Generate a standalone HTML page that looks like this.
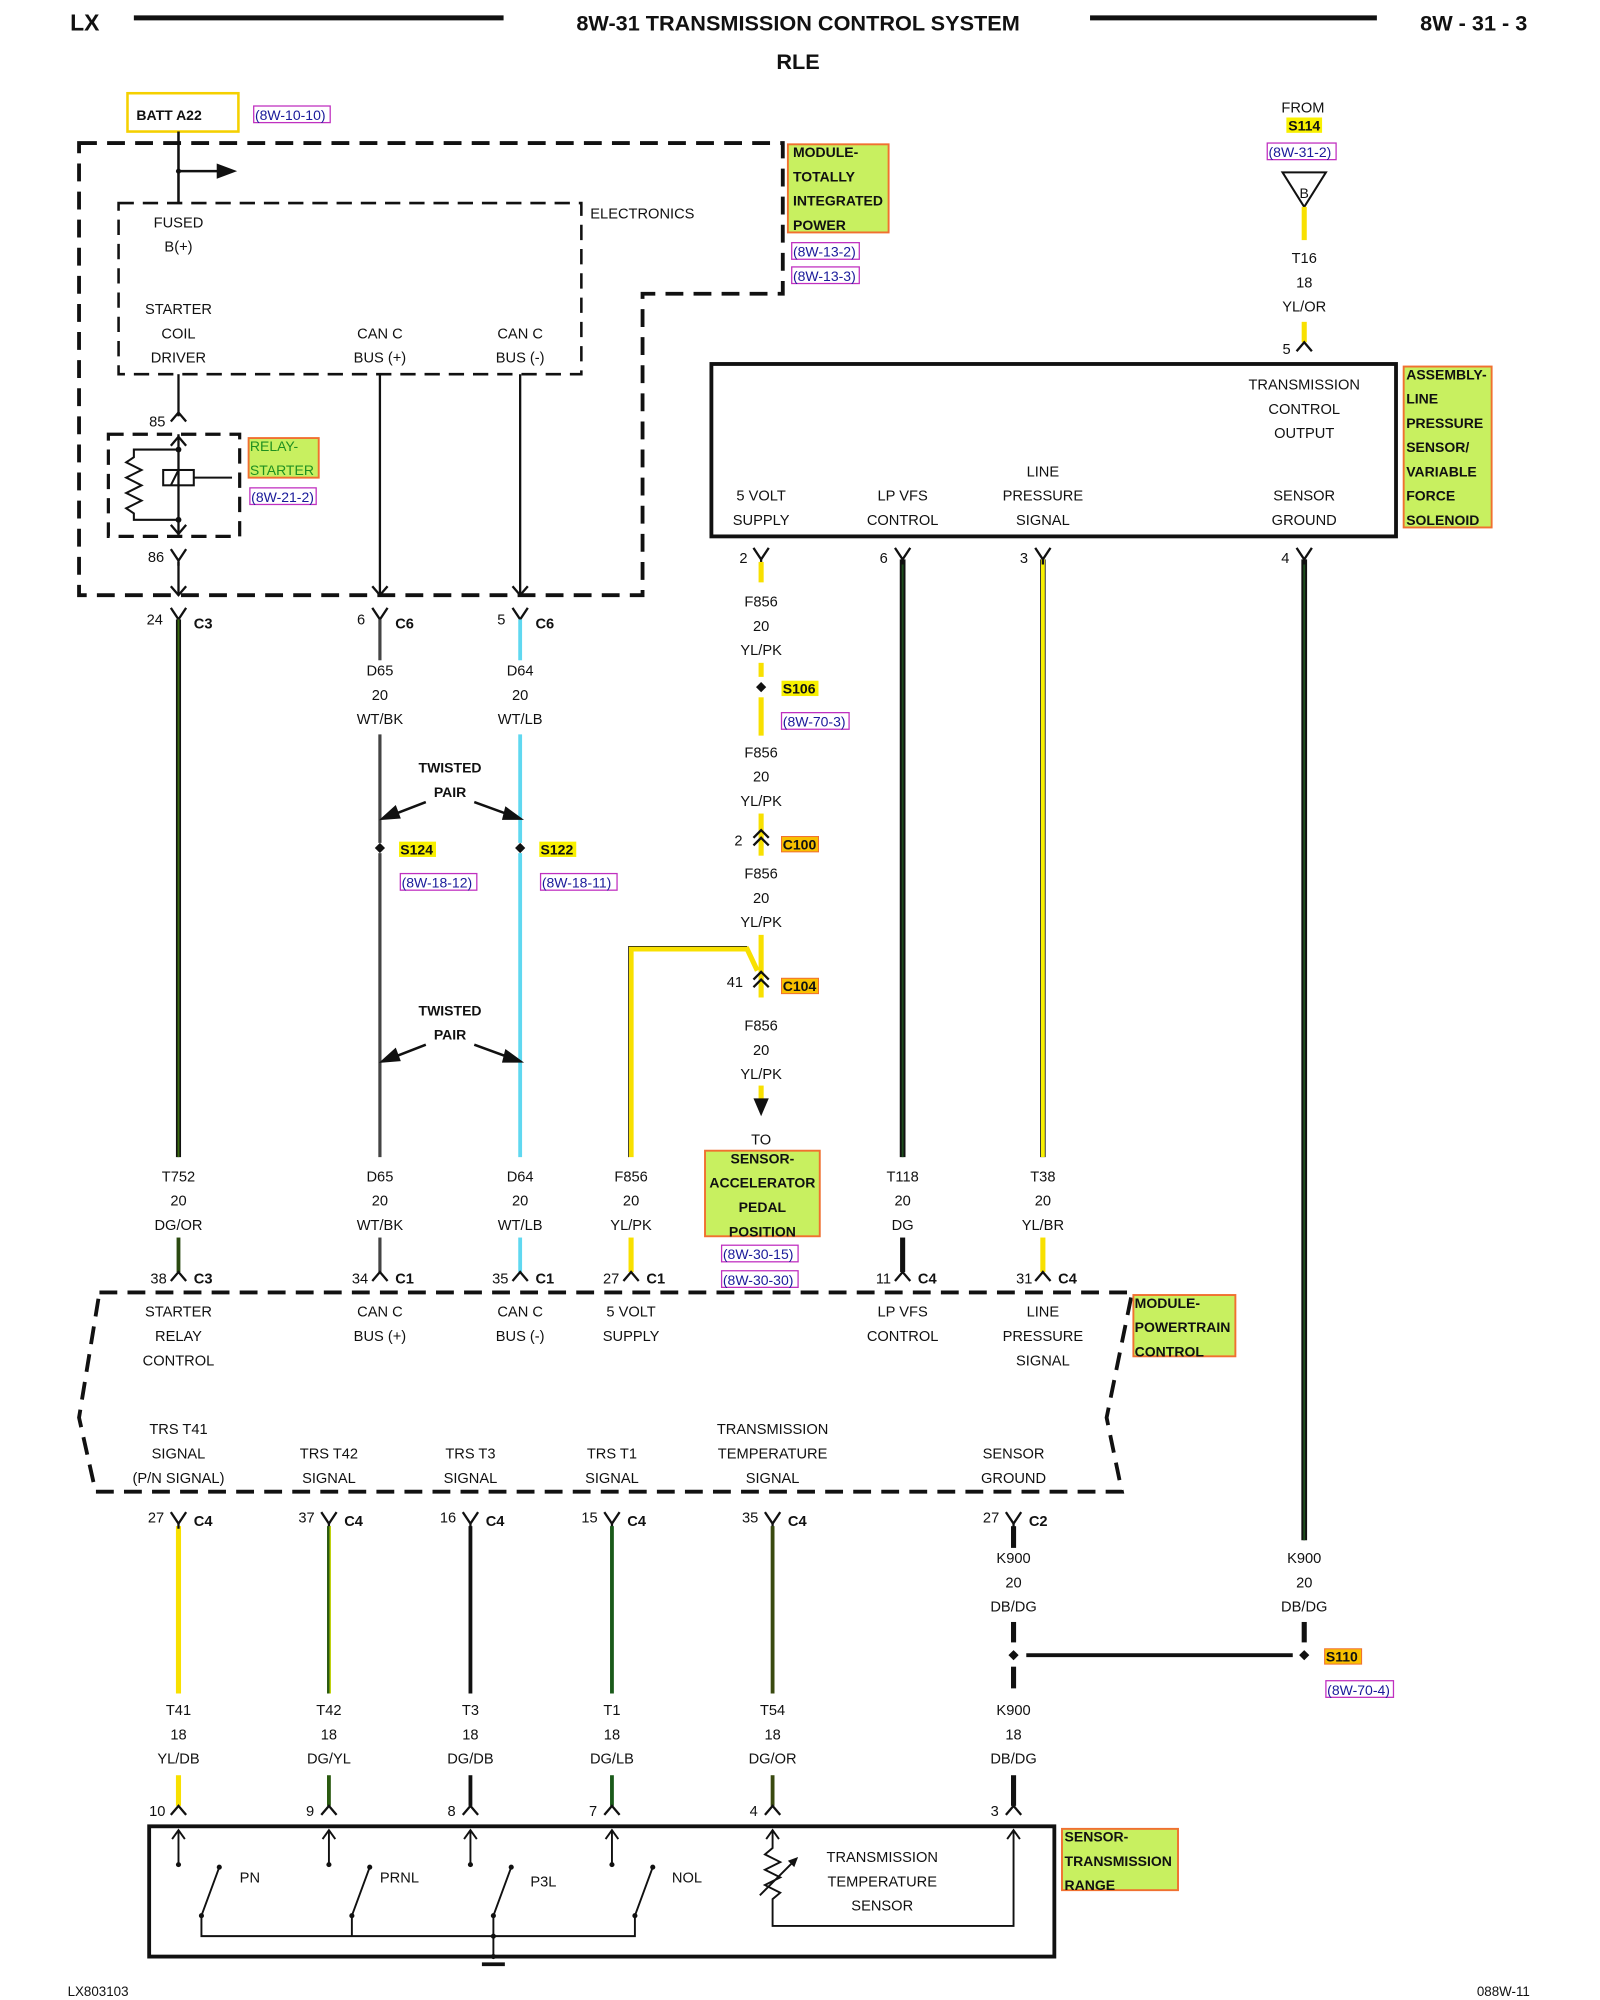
<!DOCTYPE html>
<html><head><meta charset="utf-8"><style>
html,body{margin:0;padding:0;background:#fff}
svg{display:block}
text{font-family:"Liberation Sans",sans-serif;font-size:11.5px;fill:#111}
.c{text-anchor:middle}
.b{font-weight:bold}
.r{fill:#1a1a9a;font-size:11px}
.d{fill:none;stroke:#111;stroke-width:3;stroke-dasharray:14,8}
.k{fill:none;stroke:#111;stroke-width:1.6}
.lab{fill:#c8f060;stroke:#f07030;stroke-width:1.5}
.ref{fill:none;stroke:#c030c0;stroke-width:1}
</style></head><body>
<svg width="1600" height="2000" viewBox="0 0 1255 1566" preserveAspectRatio="none" xmlns="http://www.w3.org/2000/svg">
<defs>
<g id="Y"><path d="M-6,-9 L0,0 L6,-9 M0,0 L0,4" fill="none" stroke="#111" stroke-width="1.8"/></g>
<g id="A"><path d="M-6,7 L0,0 L6,7" fill="none" stroke="#111" stroke-width="1.8"/></g>
<g id="V"><path d="M-6,-7 L0,0 L6,-7" fill="none" stroke="#111" stroke-width="1.8"/></g>
<g id="AA"><path d="M-6,6 L0,0 L6,6 M-6,12 L0,6 L6,12" fill="none" stroke="#111" stroke-width="1.8"/></g>
</defs>
<!-- header -->
<text x="55" y="24" class="b" style="font-size:18px">LX</text>
<line x1="105" y1="14" x2="395" y2="14" stroke="#111" stroke-width="4"/>
<text x="626" y="24" class="b c" style="font-size:17px">8W-31 TRANSMISSION CONTROL SYSTEM</text>
<line x1="855" y1="14" x2="1080" y2="14" stroke="#111" stroke-width="4"/>
<text x="1198" y="24" class="b" style="font-size:17px;text-anchor:end">8W - 31 - 3</text>
<text x="626" y="54" class="b c" style="font-size:17px">RLE</text>

<!-- BATT -->
<rect x="100" y="73" width="87" height="30" fill="none" stroke="#f5d000" stroke-width="2"/>
<text x="107" y="94" class="b" style="font-size:11px">BATT A22</text>
<rect x="199" y="83" width="60" height="13" class="ref"/><text x="200" y="94" class="r">(8W-10-10)</text>

<!-- TIPM -->
<path d="M62,112 L614,112 L614,230 L504,230 L504,466 L62,466 Z" class="d"/>
<rect x="93" y="159" width="363" height="134" class="d" style="stroke-width:2;stroke-dasharray:12,7"/>
<text x="463" y="171">ELECTRONICS</text>
<line x1="140" y1="103" x2="140" y2="159" stroke="#111" stroke-width="2"/>
<line x1="140" y1="134" x2="172" y2="134" stroke="#111" stroke-width="2"/>
<path d="M170,128 L186,134 L170,140 Z" fill="#111"/>
<circle cx="140" cy="134" r="2" fill="#111"/>
<text x="140" y="178" class="c">FUSED</text><text x="140" y="197" class="c">B(+)</text>
<text x="140" y="246" class="c">STARTER</text><text x="140" y="265" class="c">COIL</text><text x="140" y="284" class="c">DRIVER</text>
<text x="298" y="265" class="c">CAN C</text><text x="298" y="284" class="c">BUS (+)</text>
<text x="408" y="265" class="c">CAN C</text><text x="408" y="284" class="c">BUS (-)</text>
<rect x="618" y="113" width="79" height="69" class="lab"/>
<text x="622" y="123" class="b" style="font-size:11px">MODULE-</text>
<text x="622" y="142" class="b" style="font-size:11px">TOTALLY</text>
<text x="622" y="161" class="b" style="font-size:11px">INTEGRATED</text>
<text x="622" y="180" class="b" style="font-size:11px">POWER</text>
<rect x="621" y="190" width="53" height="13" class="ref"/><text x="622" y="201" class="r">(8W-13-2)</text>
<rect x="621" y="209" width="53" height="13" class="ref"/><text x="622" y="220" class="r">(8W-13-3)</text>

<!-- relay -->
<line x1="140" y1="293" x2="140" y2="326" stroke="#111" stroke-width="1.8"/>
<use href="#A" x="140" y="323"/><text x="117" y="334">85</text>
<rect x="85" y="340" width="103" height="80" class="d" style="stroke-width:2.5;stroke-dasharray:12,7"/>
<line x1="140" y1="340" x2="140" y2="420" stroke="#111" stroke-width="1.8"/>
<use href="#A" x="140" y="342"/><use href="#V" x="140" y="418"/>
<circle cx="140" cy="352" r="2.3" fill="#111"/><circle cx="140" cy="407" r="2.3" fill="#111"/>
<path d="M140,352 L105,352 L105,358 L99,362 L111,368 L99,374 L111,380 L99,386 L111,392 L99,398 L105,402 L105,407 L140,407" class="k"/>
<rect x="128" y="368" width="24" height="12" class="k"/><path d="M140,368 L134,380 M152,374 L182,374" class="k"/>
<rect x="195" y="343" width="55" height="31" class="lab"/>
<text x="196" y="353" style="font-size:11px;fill:#209020">RELAY-</text>
<text x="196" y="372" style="font-size:11px;fill:#209020">STARTER</text>
<rect x="196" y="382" width="52" height="13" class="ref"/><text x="197" y="393" class="r">(8W-21-2)</text>
<use href="#Y" x="140" y="439"/><text x="116" y="440">86</text>
<line x1="140" y1="440" x2="140" y2="466" stroke="#111" stroke-width="1.8"/>
<use href="#V" x="140" y="466"/>
<line x1="298" y1="293" x2="298" y2="466" stroke="#111" stroke-width="1.8"/><use href="#V" x="298" y="466"/>
<line x1="408" y1="293" x2="408" y2="466" stroke="#111" stroke-width="1.8"/><use href="#V" x="408" y="466"/>

<!-- C3/C6 connectors -->
<use href="#Y" x="140" y="485"/><text x="115" y="489">24</text><text x="152" y="492" class="b">C3</text>
<use href="#Y" x="298" y="485"/><text x="280" y="489">6</text><text x="310" y="492" class="b">C6</text>
<use href="#Y" x="408" y="485"/><text x="390" y="489">5</text><text x="420" y="492" class="b">C6</text>

<!-- wires -->
<g stroke-linecap="butt">
<line x1="140" y1="485" x2="140" y2="906" stroke="#111" stroke-width="4"/><line x1="140" y1="485" x2="140" y2="906" stroke="#3a6a10" stroke-width="1.5"/>
<line x1="298" y1="575" x2="298" y2="906" stroke="#444" stroke-width="2.5"/>
<line x1="298" y1="485" x2="298" y2="517" stroke="#444" stroke-width="2.5"/>
<line x1="408" y1="575" x2="408" y2="906" stroke="#60d8f0" stroke-width="3"/>
<line x1="408" y1="485" x2="408" y2="517" stroke="#60d8f0" stroke-width="3"/>
<line x1="708" y1="438" x2="708" y2="906" stroke="#111" stroke-width="4.5"/><line x1="708" y1="438" x2="708" y2="906" stroke="#1d4d1d" stroke-width="1.5"/>
<line x1="818" y1="438" x2="818" y2="906" stroke="#333" stroke-width="4.5"/><line x1="818" y1="438" x2="818" y2="906" stroke="#f8f000" stroke-width="3"/>
<line x1="1023" y1="438" x2="1023" y2="1206" stroke="#111" stroke-width="4.5"/><line x1="1023" y1="438" x2="1023" y2="1206" stroke="#1d4d1d" stroke-width="1.5"/>
</g>
<text x="298" y="529" class="c">D65</text><text x="298" y="548" class="c">20</text><text x="298" y="567" class="c">WT/BK</text>
<text x="408" y="529" class="c">D64</text><text x="408" y="548" class="c">20</text><text x="408" y="567" class="c">WT/LB</text>
<text x="353" y="605" class="c b" style="font-size:11px">TWISTED</text><text x="353" y="624" class="c b" style="font-size:11px">PAIR</text>
<path d="M334,628 L303,640 M372,628 L405,640" stroke="#111" stroke-width="2"/>
<path d="M300,641 L310,632 L313,640 Z M408,641 L397,633 L395,641 Z" fill="#111" stroke="#111" stroke-width="2"/>
<text x="353" y="795" class="c b" style="font-size:11px">TWISTED</text><text x="353" y="814" class="c b" style="font-size:11px">PAIR</text>
<path d="M334,818 L303,830 M372,818 L405,830" stroke="#111" stroke-width="2"/>
<path d="M300,831 L310,822 L313,830 Z M408,831 L397,823 L395,831 Z" fill="#111" stroke="#111" stroke-width="2"/>
<rect x="294" y="660" width="8" height="8" fill="#fff"/><rect x="404" y="660" width="8" height="8" fill="#fff"/>
<path d="M298,660 L302,664 L298,668 L294,664 Z" fill="#111"/><path d="M408,660 L412,664 L408,668 L404,664 Z" fill="#111"/>
<rect x="313" y="659" width="29" height="12" fill="#f8f000"/><text x="314" y="669" class="b" style="font-size:11px">S124</text>
<rect x="423" y="659" width="29" height="12" fill="#f8f000"/><text x="424" y="669" class="b" style="font-size:11px">S122</text>
<rect x="314" y="684" width="60" height="13" class="ref"/><text x="315" y="695" class="r">(8W-18-12)</text>
<rect x="424" y="684" width="60" height="13" class="ref"/><text x="425" y="695" class="r">(8W-18-11)</text>

<!-- right top -->
<text x="1022" y="88" class="c">FROM</text>
<rect x="1009" y="92" width="28" height="12" fill="#f8f000"/><text x="1023" y="102" class="c b" style="font-size:11px">S114</text>
<rect x="994" y="112" width="54" height="13" class="ref"/><text x="995" y="123" class="r">(8W-31-2)</text>
<path d="M1006,135 L1040,135 L1023,162 Z" fill="#fff" stroke="#111" stroke-width="1.6"/><text x="1023" y="155" class="c" style="font-size:11px">B</text>
<line x1="1023" y1="162" x2="1023" y2="188" stroke="#f8e000" stroke-width="4"/>
<text x="1023" y="206" class="c">T16</text><text x="1023" y="225" class="c">18</text><text x="1023" y="244" class="c">YL/OR</text>
<line x1="1023" y1="252" x2="1023" y2="268" stroke="#f8e000" stroke-width="4"/>
<use href="#A" x="1023" y="268"/><text x="1006" y="277">5</text>
<rect x="558" y="285" width="537" height="135" fill="none" stroke="#111" stroke-width="3"/>
<text x="1023" y="305" class="c">TRANSMISSION</text><text x="1023" y="324" class="c">CONTROL</text><text x="1023" y="343" class="c">OUTPUT</text>
<text x="597" y="392" class="c">5 VOLT</text><text x="597" y="411" class="c">SUPPLY</text>
<text x="708" y="392" class="c">LP VFS</text><text x="708" y="411" class="c">CONTROL</text>
<text x="818" y="373" class="c">LINE</text><text x="818" y="392" class="c">PRESSURE</text><text x="818" y="411" class="c">SIGNAL</text>
<text x="1023" y="392" class="c">SENSOR</text><text x="1023" y="411" class="c">GROUND</text>
<rect x="1101" y="287" width="69" height="126" class="lab"/>
<text x="1103" y="297" class="b" style="font-size:11px">ASSEMBLY-</text>
<text x="1103" y="316" class="b" style="font-size:11px">LINE</text>
<text x="1103" y="335" class="b" style="font-size:11px">PRESSURE</text>
<text x="1103" y="354" class="b" style="font-size:11px">SENSOR/</text>
<text x="1103" y="373" class="b" style="font-size:11px">VARIABLE</text>
<text x="1103" y="392" class="b" style="font-size:11px">FORCE</text>
<text x="1103" y="411" class="b" style="font-size:11px">SOLENOID</text>
<use href="#Y" x="597" y="438"/><text x="580" y="441">2</text>
<use href="#Y" x="708" y="438"/><text x="690" y="441">6</text>
<use href="#Y" x="818" y="438"/><text x="800" y="441">3</text>
<use href="#Y" x="1023" y="438"/><text x="1005" y="441">4</text>

<!-- F856 -->
<g stroke="#f8e000" stroke-width="4">
<line x1="597" y1="440" x2="597" y2="456"/><line x1="597" y1="519" x2="597" y2="530"/><line x1="597" y1="546" x2="597" y2="576"/>
<line x1="597" y1="637" x2="597" y2="670"/><line x1="597" y1="732" x2="597" y2="781"/><line x1="597" y1="850" x2="597" y2="862"/>
<path d="M495,906 L495,743 L586,743 L594,760" fill="none"/>
<line x1="495" y1="969" x2="495" y2="996"/><line x1="818" y1="969" x2="818" y2="996"/>
<line x1="140" y1="1195" x2="140" y2="1326"/><line x1="140" y1="1390" x2="140" y2="1414"/>
</g>
<path d="M493,906 L493,741 L586,741" fill="none" stroke="#111" stroke-width="0.6"/>
<text x="597" y="475" class="c">F856</text><text x="597" y="494" class="c">20</text><text x="597" y="513" class="c">YL/PK</text>
<path d="M597,534 L601,538 L597,542 L593,538 Z" fill="#111"/>
<rect x="613" y="533" width="29" height="12" fill="#f8f000"/><text x="614" y="543" class="b" style="font-size:11px">S106</text>
<rect x="613" y="558" width="53" height="13" class="ref"/><text x="614" y="569" class="r">(8W-70-3)</text>
<text x="597" y="593" class="c">F856</text><text x="597" y="612" class="c">20</text><text x="597" y="631" class="c">YL/PK</text>
<use href="#AA" x="597" y="650"/><text x="576" y="662">2</text>
<rect x="613" y="655" width="29" height="12" fill="#f8c000" stroke="#f07030" stroke-width="0.8"/><text x="614" y="665" class="b" style="font-size:11px">C100</text>
<text x="597" y="688" class="c">F856</text><text x="597" y="707" class="c">20</text><text x="597" y="726" class="c">YL/PK</text>
<use href="#AA" x="597" y="761"/><text x="570" y="773">41</text>
<rect x="613" y="766" width="29" height="12" fill="#f8c000" stroke="#f07030" stroke-width="0.8"/><text x="614" y="776" class="b" style="font-size:11px">C104</text>
<text x="597" y="807" class="c">F856</text><text x="597" y="826" class="c">20</text><text x="597" y="845" class="c">YL/PK</text>
<path d="M591,860 L603,860 L597,874 Z" fill="#111"/>
<text x="597" y="896" class="c">TO</text>
<rect x="553" y="901" width="90" height="67" class="lab"/>
<text x="598" y="911" class="c b" style="font-size:11px">SENSOR-</text>
<text x="598" y="930" class="c b" style="font-size:11px">ACCELERATOR</text>
<text x="598" y="949" class="c b" style="font-size:11px">PEDAL</text>
<text x="598" y="968" class="c b" style="font-size:11px">POSITION</text>
<rect x="566" y="975" width="60" height="13" class="ref"/><text x="567" y="986" class="r">(8W-30-15)</text>
<rect x="566" y="995" width="60" height="13" class="ref"/><text x="567" y="1006" class="r">(8W-30-30)</text>

<!-- lower wire labels -->
<text x="140" y="925" class="c">T752</text><text x="140" y="944" class="c">20</text><text x="140" y="963" class="c">DG/OR</text>
<text x="298" y="925" class="c">D65</text><text x="298" y="944" class="c">20</text><text x="298" y="963" class="c">WT/BK</text>
<text x="408" y="925" class="c">D64</text><text x="408" y="944" class="c">20</text><text x="408" y="963" class="c">WT/LB</text>
<text x="495" y="925" class="c">F856</text><text x="495" y="944" class="c">20</text><text x="495" y="963" class="c">YL/PK</text>
<text x="708" y="925" class="c">T118</text><text x="708" y="944" class="c">20</text><text x="708" y="963" class="c">DG</text>
<text x="818" y="925" class="c">T38</text><text x="818" y="944" class="c">20</text><text x="818" y="963" class="c">YL/BR</text>
<line x1="140" y1="969" x2="140" y2="996" stroke="#2a4a10" stroke-width="3"/>
<line x1="298" y1="969" x2="298" y2="996" stroke="#444" stroke-width="2.5"/>
<line x1="408" y1="969" x2="408" y2="996" stroke="#60d8f0" stroke-width="3"/>
<line x1="708" y1="969" x2="708" y2="996" stroke="#111" stroke-width="4"/>
<use href="#A" x="140" y="996"/><text x="118" y="1005">38</text><text x="152" y="1005" class="b">C3</text>
<use href="#A" x="298" y="996"/><text x="276" y="1005">34</text><text x="310" y="1005" class="b">C1</text>
<use href="#A" x="408" y="996"/><text x="386" y="1005">35</text><text x="420" y="1005" class="b">C1</text>
<use href="#A" x="495" y="996"/><text x="473" y="1005">27</text><text x="507" y="1005" class="b">C1</text>
<use href="#A" x="708" y="996"/><text x="687" y="1005">11</text><text x="720" y="1005" class="b">C4</text>
<use href="#A" x="818" y="996"/><text x="797" y="1005">31</text><text x="830" y="1005" class="b">C4</text>

<!-- PCM -->
<path d="M78,1012 L888,1012 L868,1110 L880,1168 L75,1168 L62,1110 Z" class="d"/>
<text x="140" y="1031" class="c">STARTER</text><text x="140" y="1050" class="c">RELAY</text><text x="140" y="1069" class="c">CONTROL</text>
<text x="298" y="1031" class="c">CAN C</text><text x="298" y="1050" class="c">BUS (+)</text>
<text x="408" y="1031" class="c">CAN C</text><text x="408" y="1050" class="c">BUS (-)</text>
<text x="495" y="1031" class="c">5 VOLT</text><text x="495" y="1050" class="c">SUPPLY</text>
<text x="708" y="1031" class="c">LP VFS</text><text x="708" y="1050" class="c">CONTROL</text>
<text x="818" y="1031" class="c">LINE</text><text x="818" y="1050" class="c">PRESSURE</text><text x="818" y="1069" class="c">SIGNAL</text>
<rect x="889" y="1014" width="80" height="48" class="lab"/>
<text x="890" y="1024" class="b" style="font-size:11px">MODULE-</text>
<text x="890" y="1043" class="b" style="font-size:11px">POWERTRAIN</text>
<text x="890" y="1062" class="b" style="font-size:11px">CONTROL</text>
<text x="140" y="1123" class="c">TRS T41</text><text x="140" y="1142" class="c">SIGNAL</text><text x="140" y="1161" class="c">(P/N SIGNAL)</text>
<text x="258" y="1142" class="c">TRS T42</text><text x="258" y="1161" class="c">SIGNAL</text>
<text x="369" y="1142" class="c">TRS T3</text><text x="369" y="1161" class="c">SIGNAL</text>
<text x="480" y="1142" class="c">TRS T1</text><text x="480" y="1161" class="c">SIGNAL</text>
<text x="606" y="1123" class="c">TRANSMISSION</text><text x="606" y="1142" class="c">TEMPERATURE</text><text x="606" y="1161" class="c">SIGNAL</text>
<text x="795" y="1142" class="c">SENSOR</text><text x="795" y="1161" class="c">GROUND</text>

<use href="#Y" x="140" y="1193"/><text x="116" y="1192">27</text><text x="152" y="1195" class="b">C4</text>
<use href="#Y" x="258" y="1193"/><text x="234" y="1192">37</text><text x="270" y="1195" class="b">C4</text>
<use href="#Y" x="369" y="1193"/><text x="345" y="1192">16</text><text x="381" y="1195" class="b">C4</text>
<use href="#Y" x="480" y="1193"/><text x="456" y="1192">15</text><text x="492" y="1195" class="b">C4</text>
<use href="#Y" x="606" y="1193"/><text x="582" y="1192">35</text><text x="618" y="1195" class="b">C4</text>
<use href="#Y" x="795" y="1193"/><text x="771" y="1192">27</text><text x="807" y="1195" class="b">C2</text>
<g>
<line x1="258" y1="1195" x2="258" y2="1326" stroke="#2a5a10" stroke-width="3"/><line x1="259" y1="1195" x2="259" y2="1326" stroke="#d0e000" stroke-width="1"/>
<line x1="369" y1="1195" x2="369" y2="1326" stroke="#111" stroke-width="3"/>
<line x1="480" y1="1195" x2="480" y2="1326" stroke="#1a5a1a" stroke-width="3"/>
<line x1="606" y1="1195" x2="606" y2="1326" stroke="#3a4a10" stroke-width="3"/>
<line x1="795" y1="1195" x2="795" y2="1212" stroke="#111" stroke-width="4"/>
<line x1="795" y1="1270" x2="795" y2="1286" stroke="#111" stroke-width="4"/>
<line x1="795" y1="1305" x2="795" y2="1322" stroke="#111" stroke-width="4"/>
<line x1="1023" y1="1270" x2="1023" y2="1286" stroke="#111" stroke-width="4"/>
<line x1="805" y1="1296" x2="1014" y2="1296" stroke="#111" stroke-width="3"/>
<line x1="258" y1="1390" x2="258" y2="1414" stroke="#2a5a10" stroke-width="3"/>
<line x1="369" y1="1390" x2="369" y2="1414" stroke="#111" stroke-width="3"/>
<line x1="480" y1="1390" x2="480" y2="1414" stroke="#1a5a1a" stroke-width="3"/>
<line x1="606" y1="1390" x2="606" y2="1414" stroke="#3a4a10" stroke-width="3"/>
<line x1="795" y1="1390" x2="795" y2="1414" stroke="#111" stroke-width="4"/>
</g>
<text x="795" y="1224" class="c">K900</text><text x="795" y="1243" class="c">20</text><text x="795" y="1262" class="c">DB/DG</text>
<text x="1023" y="1224" class="c">K900</text><text x="1023" y="1243" class="c">20</text><text x="1023" y="1262" class="c">DB/DG</text>
<path d="M795,1292 L799,1296 L795,1300 L791,1296 Z" fill="#111"/><path d="M1023,1292 L1027,1296 L1023,1300 L1019,1296 Z" fill="#111"/>
<rect x="1039" y="1291" width="29" height="12" fill="#f8c000" stroke="#f07030" stroke-width="0.8"/><text x="1040" y="1301" class="b" style="font-size:11px">S110</text>
<rect x="1040" y="1316" width="53" height="13" class="ref"/><text x="1041" y="1327" class="r">(8W-70-4)</text>

<text x="140" y="1343" class="c">T41</text><text x="140" y="1362" class="c">18</text><text x="140" y="1381" class="c">YL/DB</text>
<text x="258" y="1343" class="c">T42</text><text x="258" y="1362" class="c">18</text><text x="258" y="1381" class="c">DG/YL</text>
<text x="369" y="1343" class="c">T3</text><text x="369" y="1362" class="c">18</text><text x="369" y="1381" class="c">DG/DB</text>
<text x="480" y="1343" class="c">T1</text><text x="480" y="1362" class="c">18</text><text x="480" y="1381" class="c">DG/LB</text>
<text x="606" y="1343" class="c">T54</text><text x="606" y="1362" class="c">18</text><text x="606" y="1381" class="c">DG/OR</text>
<text x="795" y="1343" class="c">K900</text><text x="795" y="1362" class="c">18</text><text x="795" y="1381" class="c">DB/DG</text>
<use href="#A" x="140" y="1414"/><text x="117" y="1422">10</text>
<use href="#A" x="258" y="1414"/><text x="240" y="1422">9</text>
<use href="#A" x="369" y="1414"/><text x="351" y="1422">8</text>
<use href="#A" x="480" y="1414"/><text x="462" y="1422">7</text>
<use href="#A" x="606" y="1414"/><text x="588" y="1422">4</text>
<use href="#A" x="795" y="1414"/><text x="777" y="1422">3</text>

<!-- TRS -->
<rect x="117" y="1430" width="710" height="102" fill="none" stroke="#111" stroke-width="3"/>
<g class="k" style="stroke-width:1.5">
<path d="M140,1433 L140,1460 M258,1433 L258,1460 M369,1433 L369,1460 M480,1433 L480,1460"/>
<path d="M135,1440 L140,1433 L145,1440 M253,1440 L258,1433 L263,1440 M364,1440 L369,1433 L374,1440 M475,1440 L480,1433 L485,1440 M601,1440 L606,1433 L611,1440 M790,1440 L795,1433 L800,1440"/>
<path d="M172,1462 L158,1500 M290,1462 L276,1500 M401,1462 L387,1500 M512,1462 L498,1500"/>
<path d="M158,1500 L158,1516 L498,1516 L498,1500 M276,1500 L276,1516 M387,1500 L387,1532"/>
<path d="M606,1433 L606,1447 L600,1452 L612,1458 L600,1464 L612,1470 L600,1476 L612,1482 L606,1487 L606,1508 L795,1508 L795,1433"/>
<path d="M596,1484 L624,1456"/>
</g>
<path d="M626,1454 L618,1457 L623,1462 Z" fill="#111"/>
<g fill="#111"><circle cx="140" cy="1460" r="2"/><circle cx="258" cy="1460" r="2"/><circle cx="369" cy="1460" r="2"/><circle cx="480" cy="1460" r="2"/>
<circle cx="172" cy="1462" r="2"/><circle cx="290" cy="1462" r="2"/><circle cx="401" cy="1462" r="2"/><circle cx="512" cy="1462" r="2"/>
<circle cx="158" cy="1500" r="2"/><circle cx="276" cy="1500" r="2"/><circle cx="387" cy="1500" r="2"/><circle cx="498" cy="1500" r="2"/>
<circle cx="387" cy="1516" r="2"/><circle cx="387" cy="1532" r="2"/></g>
<line x1="378" y1="1538" x2="396" y2="1538" stroke="#111" stroke-width="3"/>
<text x="188" y="1474">PN</text><text x="298" y="1474">PRNL</text><text x="416" y="1477">P3L</text><text x="527" y="1474">NOL</text>
<text x="692" y="1458" class="c">TRANSMISSION</text><text x="692" y="1477" class="c">TEMPERATURE</text><text x="692" y="1496" class="c">SENSOR</text>
<rect x="833" y="1432" width="91" height="48" class="lab"/>
<text x="835" y="1442" class="b" style="font-size:11px">SENSOR-</text>
<text x="835" y="1461" class="b" style="font-size:11px">TRANSMISSION</text>
<text x="835" y="1480" class="b" style="font-size:11px">RANGE</text>
<text x="53" y="1563" style="font-size:10.5px">LX803103</text>
<text x="1200" y="1563" style="font-size:10.5px;text-anchor:end">088W-11</text>
</svg>
</body></html>
